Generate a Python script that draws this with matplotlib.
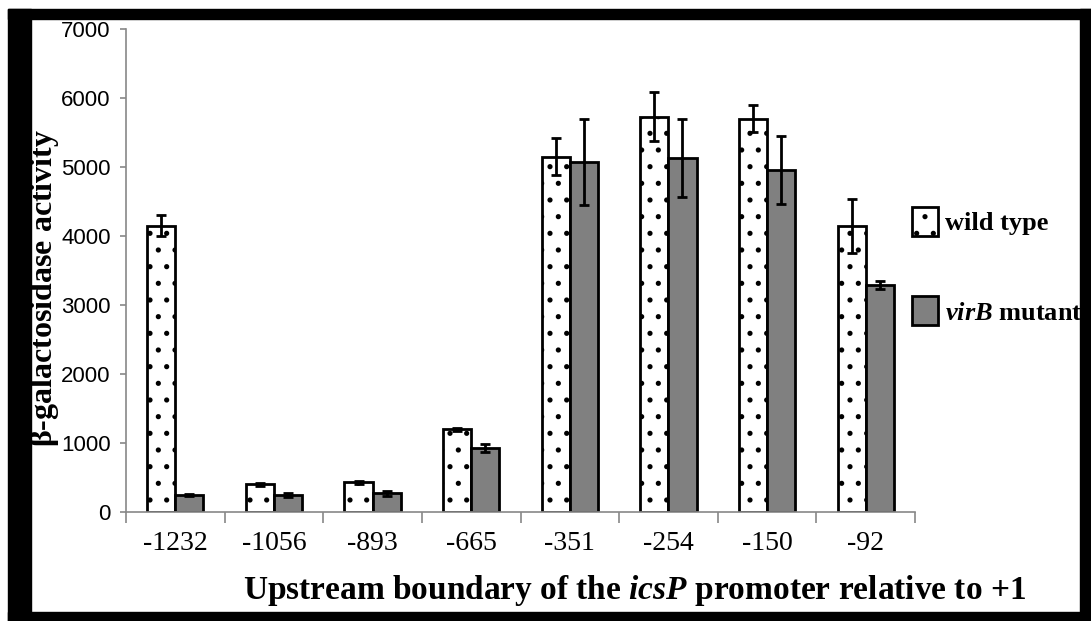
import numpy as np
import matplotlib
matplotlib.use("Agg")
import matplotlib.pyplot as plt
from matplotlib.patches import Rectangle

plt.rcParams['mathtext.fontset'] = 'custom'
plt.rcParams['mathtext.bfit'] = 'Liberation Serif:italic:bold'
plt.rcParams['mathtext.rm'] = 'Liberation Serif:bold'
plt.rcParams['hatch.linewidth'] = 1.3
plt.rcParams['hatch.color'] = 'black'

boundaries = ['-1232', '-1056', '-893', '-665', '-351', '-254', '-150', '-92']
wild_type = [4150, 400, 430, 1200, 5150, 5730, 5700, 4140]
wild_type_err = [150, 25, 25, 20, 270, 360, 200, 390]
virb_mutant = [240, 250, 270, 930, 5070, 5130, 4960, 3290]
virb_mutant_err = [15, 30, 40, 60, 620, 570, 490, 60]

W, H = 1091, 621
fig = plt.figure(figsize=(W / 100, H / 100), dpi=100)
fig.patch.set_facecolor('white')
ax = fig.add_axes([126 / W, 1 - 512 / H, 789 / W, 483 / H])

x = np.arange(len(boundaries))
bw = 0.285
ekw = dict(ecolor='black', elinewidth=2, capsize=3.5, capthick=2)
ax.bar(x - bw / 2, wild_type, bw, color='white', edgecolor='black', linewidth=2,
       hatch='.', yerr=wild_type_err, error_kw=ekw, label='wild type')
ax.bar(x + bw / 2, virb_mutant, bw, color='#808080', edgecolor='black', linewidth=2,
       yerr=virb_mutant_err, error_kw=ekw, label=r'$\mathbfit{virB}$ mutant')

ax.set_xlim(-0.5, len(boundaries) - 0.5)
ax.set_ylim(0, 7000)
ax.set_yticks(np.arange(0, 7001, 1000))
ax.set_xticks(np.arange(-0.5, len(boundaries)), labels=[])
ax.set_xticks(x, labels=boundaries, minor=True)

for s in ['top', 'right']:
    ax.spines[s].set_visible(False)
for s in ['left', 'bottom']:
    ax.spines[s].set_color('#888888')
    ax.spines[s].set_linewidth(1.2)

ax.tick_params(axis='y', direction='out', length=4, width=1.2, color='#888888', pad=7,
               labelsize=16)
ax.tick_params(axis='x', which='major', direction='out', length=8, width=1.2, color='#888888')
ax.tick_params(axis='x', which='minor', length=0, pad=14, labelsize=20)
for lab in ax.get_yticklabels():
    lab.set_family('Liberation Sans')
for lab in ax.get_xticklabels(minor=True):
    lab.set_family('Liberation Serif')

fig.text(45 / W, 1 - 288 / H, r'$\mathrm{\beta}$-galactosidase activity', rotation=90,
         ha='center', va='center', fontsize=23, fontweight='bold', family='Liberation Serif')
fig.text(634 / W, 1 - 590 / H, r'Upstream boundary of the $\mathbfit{icsP}$ promoter relative to +1',
         ha='center', va='center', fontsize=24, fontweight='bold', family='Liberation Serif')

leg = ax.legend(loc='upper left', bbox_to_anchor=(912 / W, 1 - 207 / H),
                bbox_transform=fig.transFigure, frameon=False, borderpad=0, borderaxespad=0,
                handlelength=1.0, handleheight=1.3, handletextpad=0.25, labelspacing=2.3,
                prop={'family': 'Liberation Serif', 'weight': 'bold', 'size': 19})

# black frame around the plot
frame = dict(color='black', zorder=10, transform=None)
fig.patches.extend([
    Rectangle((8, 0), W - 8, H - 612, **frame),
    Rectangle((8, 0), 23, H - 9, **frame),
    Rectangle((1080, 0), W - 1080, H - 9, **frame),
    Rectangle((8, H - 19), W - 8, 10, **frame),
])

fig.savefig('out.png', dpi=100, facecolor='white')
